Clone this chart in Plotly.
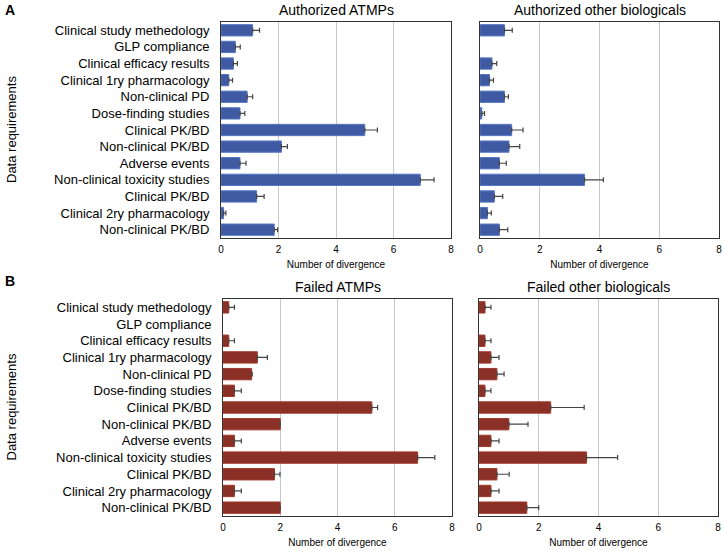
import plotly.graph_objects as go

categories = [
    "Clinical study methedology", "GLP compliance", "Clinical efficacy results",
    "Clinical 1ry pharmacology", "Non-clinical PD", "Dose-finding studies",
    "Clinical PK/BD", "Non-clinical PK/BD", "Adverse events",
    "Non-clinical toxicity studies", "Clinical PK/BD", "Clinical 2ry pharmacology",
    "Non-clinical PK/BD",
]

auth_atmp = [1.1, 0.5, 0.43, 0.27, 0.91, 0.66, 5.0, 2.1, 0.66, 6.93, 1.24, 0.09, 1.85]
auth_atmp_err = [0.24, 0.17, 0.14, 0.13, 0.19, 0.17, 0.44, 0.21, 0.21, 0.48, 0.26, 0.08, 0.12]

auth_other = [0.82, 0.0, 0.4, 0.32, 0.82, 0.06, 1.06, 0.97, 0.65, 3.5, 0.48, 0.25, 0.65]
auth_other_err = [0.26, 0.0, 0.16, 0.13, 0.13, 0.09, 0.38, 0.36, 0.23, 0.63, 0.28, 0.13, 0.28]

failed_atmp = [0.2, 0.0, 0.2, 1.2, 1.0, 0.4, 5.2, 2.0, 0.4, 6.8, 1.8, 0.4, 2.0]
failed_atmp_err = [0.2, 0.0, 0.2, 0.35, 0.02, 0.24, 0.2, 0.0, 0.24, 0.6, 0.19, 0.24, 0.0]

failed_other = [0.2, 0.0, 0.2, 0.4, 0.6, 0.2, 2.4, 1.0, 0.4, 3.6, 0.6, 0.4, 1.6]
failed_other_err = [0.2, 0.0, 0.2, 0.27, 0.24, 0.2, 1.12, 0.64, 0.27, 1.04, 0.41, 0.27, 0.4]

x_ticks = [0, 2, 4, 6, 8]
titles = ["Authorized ATMPs", "Authorized other biologicals", "Failed ATMPs", "Failed other biologicals"]

BLUE = "#3F5AA2"
BLUE_EDGE = "#5577C4"
RED = "#8B3026"
RED_EDGE = "#A0392C"
FONT = "Liberation Sans, Arial, sans-serif"

W, H = 724, 558
# panel pixel boxes: (x0, x1, ytop, ybottom)
boxes = [
    (221, 451, 22, 238),
    (480, 719, 22, 238),
    (223, 452, 299, 516),
    (479, 718, 299, 516),
]

series = [
    (auth_atmp, auth_atmp_err, BLUE, BLUE_EDGE),
    (auth_other, auth_other_err, BLUE, BLUE_EDGE),
    (failed_atmp, failed_atmp_err, RED, RED_EDGE),
    (failed_other, failed_other_err, RED, RED_EDGE),
]

idx = list(range(len(categories)))
fig = go.Figure()
layout = dict(
    template="none",
    width=W, height=H, margin=dict(l=0, r=0, t=0, b=0, autoexpand=False),
    paper_bgcolor="white", plot_bgcolor="white",
    showlegend=False, bargap=0.3,
    font=dict(family=FONT, color="black"),
)
annotations = []

for i, ((vals, errs, col, edge), (x0, x1, yt, yb), title) in enumerate(zip(series, boxes, titles)):
    n = "" if i == 0 else str(i + 1)
    xa, ya = "x" + n, "y" + n
    xv = [v if v > 0 else None for v in vals]
    ev = [e if v > 0 else None for v, e in zip(vals, errs)]
    fig.add_trace(go.Bar(
        x=xv, y=idx, orientation="h", xaxis=xa, yaxis=ya,
        marker=dict(color=col, line=dict(color=edge, width=1)),
        width=0.68,
        error_x=dict(type="data", array=ev, symmetric=False, arrayminus=[0] * len(errs),
                     color="#444444", thickness=1.2, width=2.5),
        hoverinfo="x+y",
    ))
    left = i in (0, 2)
    layout["xaxis" + n] = dict(
        domain=[x0 / W, x1 / W], anchor=ya, range=[0, 8], tickvals=x_ticks,
        ticktext=[str(t) for t in x_ticks], automargin=False,
        showgrid=True, gridcolor="#C8C8C8", gridwidth=1,
        showline=True, linecolor="#333333", linewidth=1, mirror=True,
        ticks="", tickfont=dict(size=10, family=FONT), ticklabelstandoff=2,
        zeroline=False,
        title=dict(text="Number of divergence", font=dict(size=10, family=FONT), standoff=6),
    )
    layout["yaxis" + n] = dict(
        domain=[1 - yb / H, 1 - yt / H], anchor=xa, range=[12.5, -0.5],
        tickvals=idx, ticktext=categories if left else [""] * len(idx),
        showticklabels=left, showgrid=False, automargin=False,
        showline=True, linecolor="#333333", linewidth=1, mirror=True,
        ticks="", tickfont=dict(size=13, family=FONT), ticklabelstandoff=8, zeroline=False,
    )
    annotations.append(dict(
        text=title, x=(x0 + x1) / 2 / W, y=1 - (yt - 12) / H, xref="paper", yref="paper",
        showarrow=False, font=dict(size=14, family=FONT), xanchor="center", yanchor="middle",
    ))
    if left:
        annotations.append(dict(
            text="Data requirements", x=11 / W, y=1 - (yt + yb) / 2 / H, xref="paper", yref="paper",
            showarrow=False, textangle=-90, font=dict(size=13, family=FONT),
            xanchor="center", yanchor="middle",
        ))

annotations.append(dict(text="<b>A</b>", x=3 / W, y=1 - 10 / H, xref="paper", yref="paper",
                        showarrow=False, font=dict(size=14, family=FONT), xanchor="left", yanchor="middle"))
annotations.append(dict(text="<b>B</b>", x=3 / W, y=1 - 281 / H, xref="paper", yref="paper",
                        showarrow=False, font=dict(size=14, family=FONT), xanchor="left", yanchor="middle"))

layout["annotations"] = annotations
fig.update_layout(**layout)
fig.write_html("out.html", config={"displayModeBar": False},
               post_script="document.body.style.margin='0';document.body.style.overflow='hidden';")
